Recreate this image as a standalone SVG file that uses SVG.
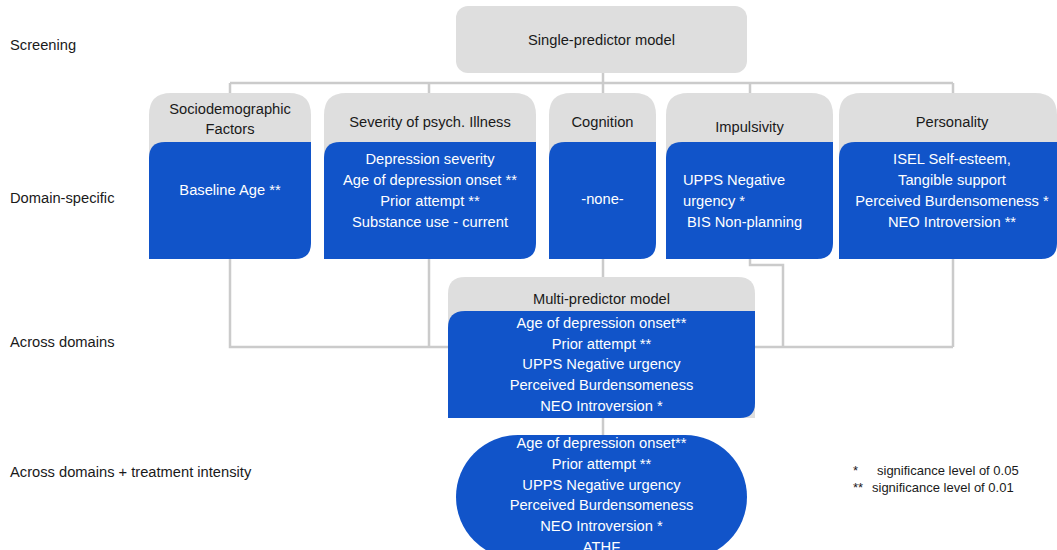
<svg xmlns="http://www.w3.org/2000/svg" width="1057" height="550" viewBox="0 0 1057 550">
<style>
text{font-family:"Liberation Sans",Arial,sans-serif;font-size:14.7px}
.lbl{fill:#1a1a1a}
.hd{fill:#1a1a1a;text-anchor:middle}
.wt{fill:#ffffff;text-anchor:middle}
.wl{fill:#ffffff}
.gray{fill:#dedede}
.blue{fill:#1154c9}
.conn{fill:none;stroke:#cbcbcb;stroke-width:2.5}
.leg{fill:#1a1a1a;font-size:13px}
</style>
<rect width="1057" height="550" fill="#ffffff"/>
<g id="row-labels">
<text class="lbl" x="10" y="50">Screening</text>
<text class="lbl" x="10" y="203">Domain-specific</text>
<text class="lbl" x="10" y="347">Across domains</text>
<text class="lbl" x="10" y="477">Across domains + treatment intensity</text>
</g>
<g id="connectors">
<path class="conn" d="M603,73 V83 M230,83 H953 M230,83 V95 M429,83 V95 M603,83 V95 M750,83 V95 M953,83 V95"/>
<path class="conn" d="M230,257 V347 H953 M429,257 V347 M603,257 V279 M750,257 V265 H783 V347 M953,257 V347 M603,416 V437"/>
</g>
<g id="single-predictor">
<rect class="gray" x="456" y="6" width="291" height="67" rx="12"/>
<text class="hd" x="601.5" y="45">Single-predictor model</text>
</g>
<g id="sociodemographic">
<path class="gray" d="M149,180 V115 Q149,93 171,93 H289 Q311,93 311,115 V180 Z"/>
<path class="blue" d="M149,259 V158 Q149,142 165,142 H311 V243 Q311,259 295,259 Z"/>
<text class="hd" x="230" y="114">Sociodemographic</text>
<text class="hd" x="230" y="134">Factors</text>
<text class="wt" x="230" y="195">Baseline Age **</text>
</g>
<g id="severity">
<path class="gray" d="M324,180 V115 Q324,93 346,93 H514 Q536,93 536,115 V180 Z"/>
<path class="blue" d="M324,259 V158 Q324,142 340,142 H536 V243 Q536,259 520,259 Z"/>
<text class="hd" x="430" y="127">Severity of psych. Illness</text>
<text class="wt" x="430" y="164">Depression severity</text>
<text class="wt" x="430" y="185">Age of depression onset **</text>
<text class="wt" x="430" y="206">Prior attempt **</text>
<text class="wt" x="430" y="227">Substance use - current</text>
</g>
<g id="cognition">
<path class="gray" d="M549,180 V115 Q549,93 571,93 H634 Q656,93 656,115 V180 Z"/>
<path class="blue" d="M549,259 V158 Q549,142 565,142 H656 V243 Q656,259 640,259 Z"/>
<text class="hd" x="602.5" y="127">Cognition</text>
<text class="wt" x="602.5" y="204">-none-</text>
</g>
<g id="impulsivity">
<path class="gray" d="M666,180 V115 Q666,93 688,93 H811 Q833,93 833,115 V180 Z"/>
<path class="blue" d="M666,259 V158 Q666,142 682,142 H833 V243 Q833,259 817,259 Z"/>
<text class="hd" x="749.5" y="132">Impulsivity</text>
<text class="wl" x="683" y="185">UPPS Negative</text>
<text class="wl" x="683" y="206">urgency *</text>
<text class="wl" x="687" y="227">BIS Non-planning</text>
</g>
<g id="personality">
<path class="gray" d="M839,180 V115 Q839,93 861,93 H1035 Q1057,93 1057,115 V180 Z"/>
<path class="blue" d="M839,259 V158 Q839,142 855,142 H1057 V243 Q1057,259 1041,259 Z"/>
<text class="hd" x="952" y="127">Personality</text>
<text class="wt" x="952" y="164">ISEL Self-esteem,</text>
<text class="wt" x="952" y="185">Tangible support</text>
<text class="wt" x="952" y="206">Perceived Burdensomeness *</text>
<text class="wt" x="952" y="227">NEO Introversion **</text>
</g>
<g id="multi-predictor">
<path class="gray" d="M448,418 V294 Q448,277 465,277 H738 Q755,277 755,294 V418 Z"/>
<path class="blue" d="M448,418 V328 Q448,311 465,311 H755 V403 Q755,418 740,418 Z"/>
<text class="hd" x="601.5" y="304">Multi-predictor model</text>
<text class="wt" x="601.5" y="328">Age of depression onset**</text>
<text class="wt" x="601.5" y="349">Prior attempt **</text>
<text class="wt" x="601.5" y="369">UPPS Negative urgency</text>
<text class="wt" x="601.5" y="390">Perceived Burdensomeness</text>
<text class="wt" x="601.5" y="411">NEO Introversion *</text>
</g>
<g id="treatment-model">
<rect class="blue" x="456" y="435" width="291" height="124" rx="62" ry="62"/>
<text class="wt" x="601.5" y="448">Age of depression onset**</text>
<text class="wt" x="601.5" y="469">Prior attempt **</text>
<text class="wt" x="601.5" y="490">UPPS Negative urgency</text>
<text class="wt" x="601.5" y="510">Perceived Burdensomeness</text>
<text class="wt" x="601.5" y="531">NEO Introversion *</text>
<text class="wt" x="601.5" y="552">ATHF</text>
</g>
<g id="legend">
<text class="leg" x="853" y="475">*</text>
<text class="leg" x="877" y="475">significance level of 0.05</text>
<text class="leg" x="853" y="492">**</text>
<text class="leg" x="872" y="492">significance level of 0.01</text>
</g>
</svg>
